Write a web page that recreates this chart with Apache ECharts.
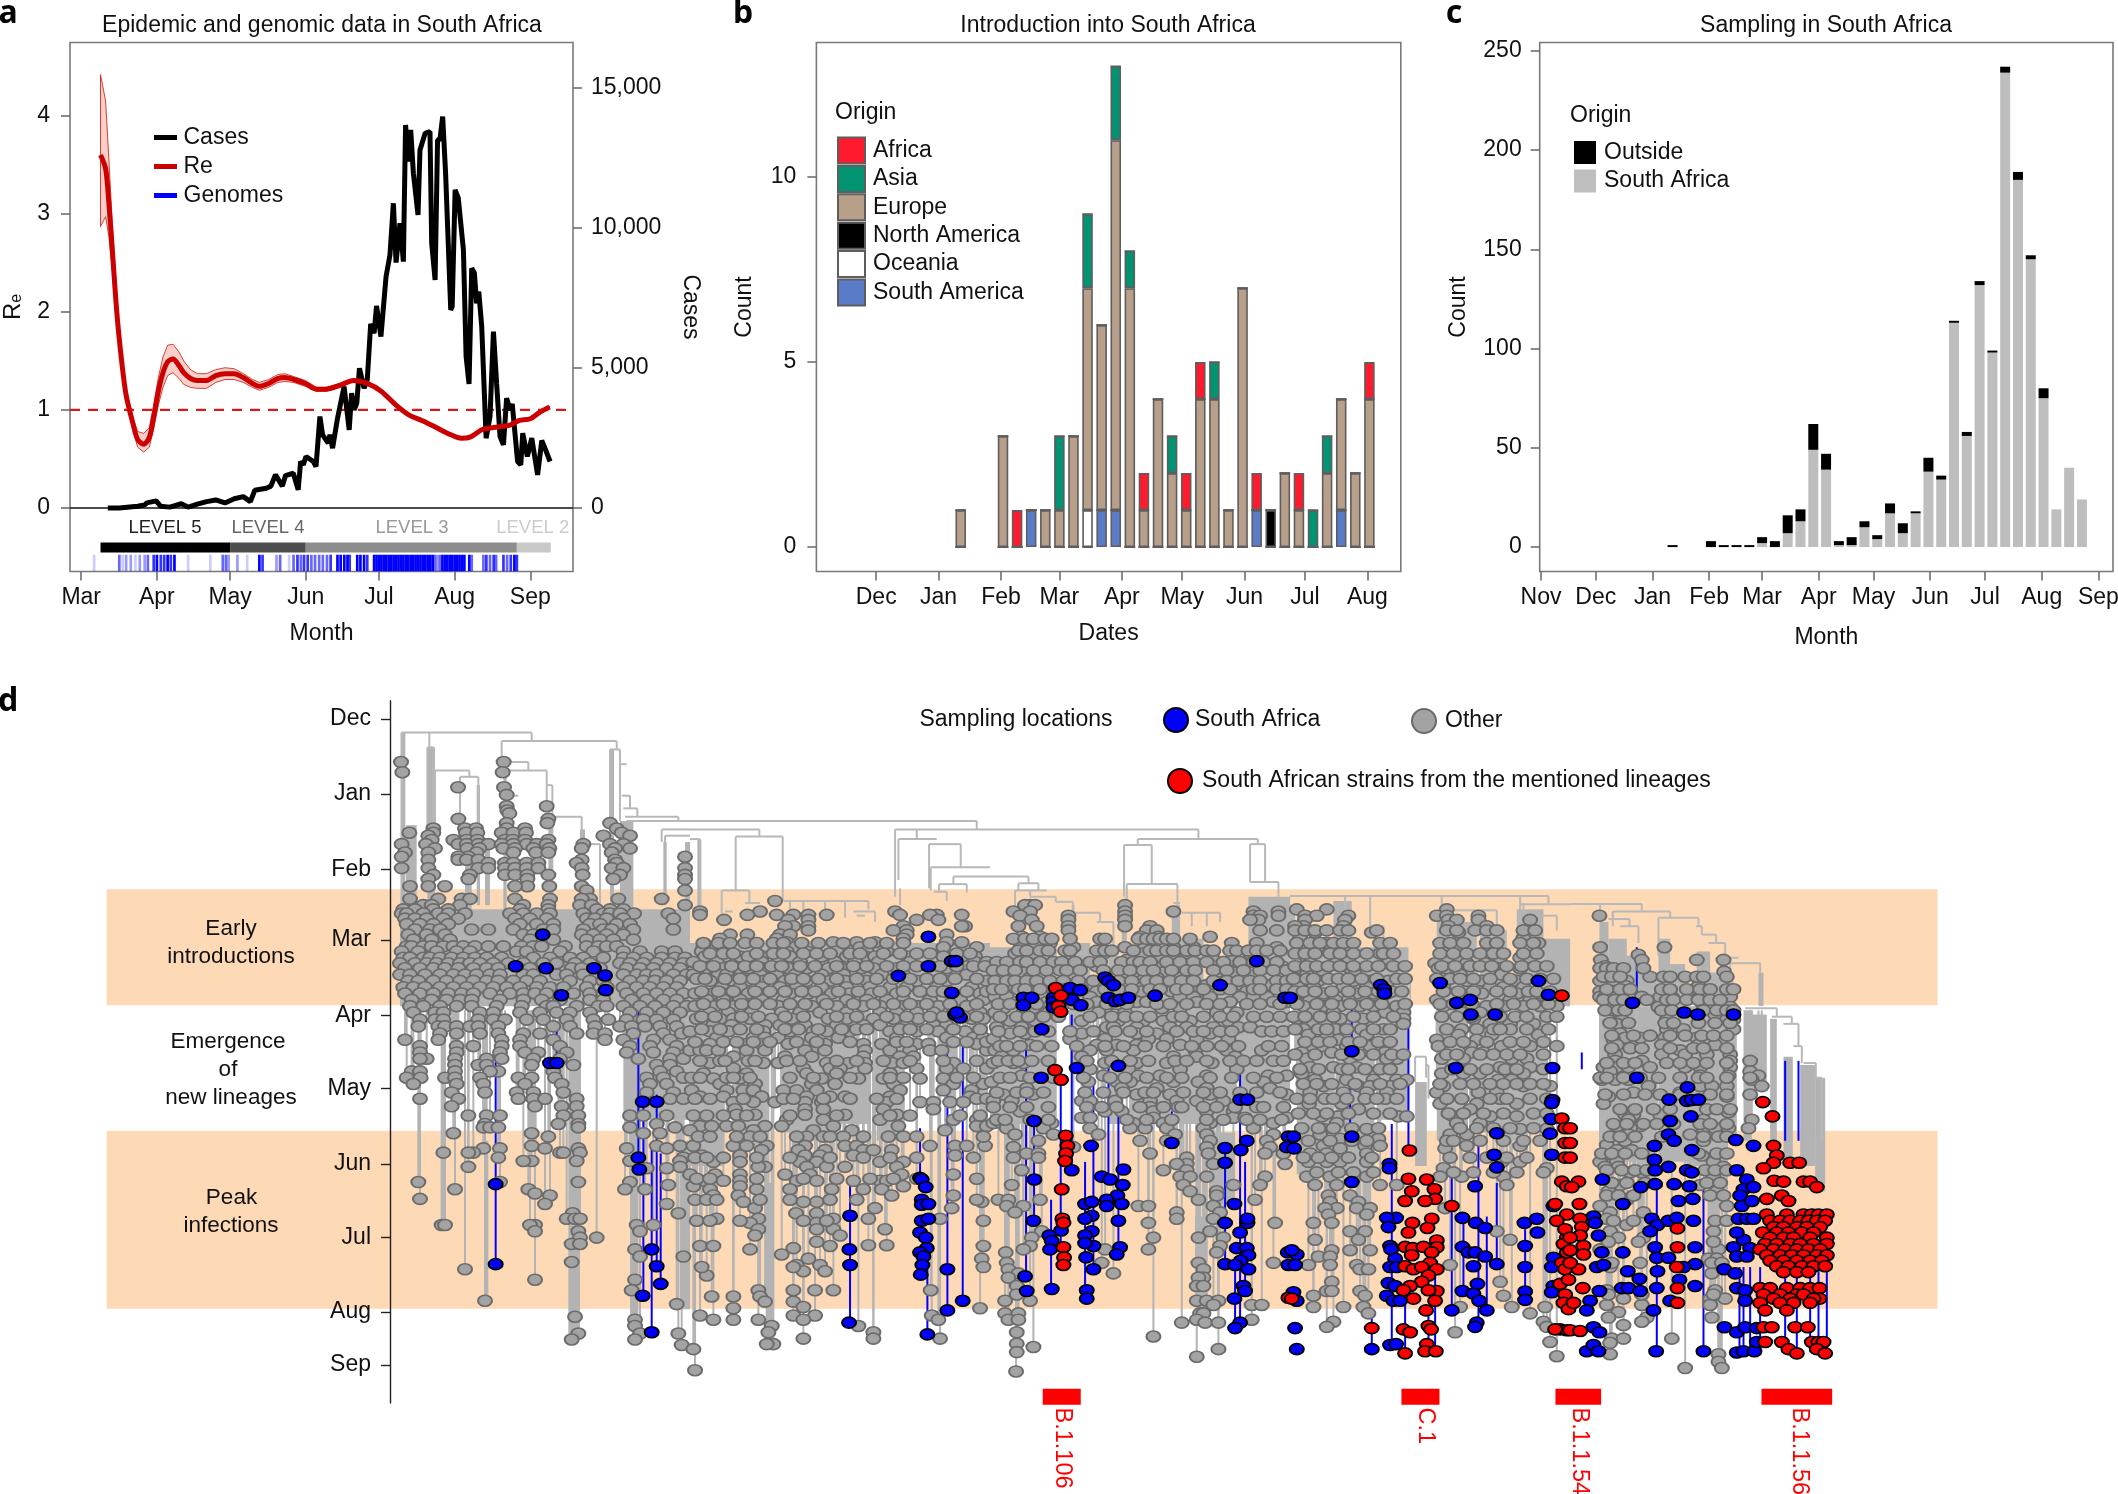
<!DOCTYPE html>
<html><head><meta charset="utf-8">
<style>html,body{margin:0;padding:0;background:#fff}#c{width:2118px;height:1494px}</style>
<script src="https://cdn.jsdelivr.net/npm/echarts@6/dist/echarts.min.js"></script>
</head><body><div id="c"></div>
<script>
// ---------- Panel a ----------
const aMonths=['Mar','Apr','May','Jun','Jul','Aug','Sep'];
const aMonthDays=[0,31,61,92,122,153,184];
const reDays=[7.9,10,11.3,12.8,14.7,16.6,18.4,21.3,23.1,25.6,27.9,29.7,31.6,33.5,35.4,37.6,40.1,42,44.8,47.6,51.4,55.1,58.9,62.7,66.4,70.2,73,76.8,80.5,83.4,87.1,91.8,96.5,100.3,105.9,111.6,117.2,122.9,128.5,134.2,139.8,145.5,151.1,155.8,159.6,164.3,169,175.6,179.3,184,187.8,191.9];
const reMean=[3.6,3.46,3.12,2.61,1.96,1.49,1.15,.85,.7,.65,.72,.93,1.19,1.38,1.49,1.52,1.45,1.38,1.32,1.3,1.3,1.35,1.37,1.37,1.33,1.27,1.24,1.27,1.32,1.33,1.31,1.27,1.21,1.21,1.25,1.3,1.27,1.19,1.06,.95,.89,.82,.75,.71,.725,.8,.82,.845,.89,.91,.975,1.03];
const reUpper=[4.42,4.15,3.57,2.86,2.08,1.56,1.2,.91,.78,.76,.82,1.05,1.33,1.54,1.66,1.67,1.59,1.5,1.41,1.37,1.37,1.41,1.43,1.42,1.37,1.31,1.28,1.31,1.36,1.37,1.34,1.3,1.23,1.23,1.27,1.31,1.28,1.2,1.07,.96,.9,.83,.76,.72,.735,.81,.83,.855,.9,.92,.985,1.04];
const reLower=[2.87,2.97,2.77,2.41,1.86,1.42,1.1,.79,.62,.57,.62,.81,1.05,1.23,1.35,1.38,1.32,1.26,1.23,1.22,1.22,1.28,1.31,1.31,1.28,1.23,1.2,1.23,1.28,1.29,1.28,1.24,1.19,1.19,1.23,1.29,1.26,1.18,1.05,.94,.88,.81,.74,.7,.715,.79,.81,.835,.88,.9,.965,1.02];
const casesDaily=[[10.9,0],[15.6,0],[23.1,60],[26,105],[26.9,180],[30.7,255],[32.6,60],[36.3,30],[41,150],[43.8,30],[47.6,135],[51.4,225],[55.1,285],[58.9,180],[62.7,330],[66.4,405],[69.3,225],[71.1,630],[75.8,705],[77.7,780],[79.6,1185],[82.4,780],[83.7,1155],[86.9,1240],[88.9,646],[89.9,1657],[91,1538],[92.1,1835],[95.1,1657],[96.2,1478],[97.8,3262],[98.9,2608],[101.2,2310],[101.9,2608],[103,2132],[104.9,3143],[107.7,4332],[109.8,2786],[110.8,4094],[111.8,3500],[112.9,3737],[114,4986],[115.9,4272],[117.2,4570],[118.6,6567],[120,6234],[121,7209],[122.8,6115],[124.9,8255],[126.5,9028],[127.9,10871],[129,8755],[130.6,10158],[132,8790],[132.9,13665],[134,12357],[135,13487],[136.1,11941],[138,10455],[138.8,12773],[140.9,13368],[142.9,13427],[143.6,9444],[145,8136],[146,13130],[147,13154],[148.1,13962],[149.3,11941],[151.4,7066],[152,7185],[153.2,11347],[154.5,11050],[155.3,10990],[156.6,9207],[157.7,5402],[158.9,4427],[160,8553],[161.1,8374],[162,7304],[162.9,7720],[164.1,6472],[165.9,2489],[167.5,3262],[168.9,6293],[170.2,4450],[171.6,2548],[173,2251],[174.3,3915],[175.7,3500],[176.6,3713],[178.8,1657],[180.1,1538],[180.9,2667],[182.8,1835],[184.6,2489],[187,1181],[188.7,2406],[190,2132],[192.1,1657]];
const genomeDays=[[5.3,1],[15.6,3],[17,1],[18.4,2],[20.3,2],[22.2,1],[24,2],[26,2],[27.3,3],[29.7,4],[31,5],[32.6,4],[34,4],[35.4,5],[36.7,4],[38.2,5],[43.8,1],[52.9,1],[58,3],[59.3,3],[60.4,2],[64,2],[68,1],[73,5],[74.3,4],[80,2],[81.5,3],[85.2,1],[87,3],[88.6,4],[90,3],[91.3,4],[92.8,4],[94.3,3],[95.8,3],[97.5,3],[99,3],[100.7,3],[102.2,4],[105,5],[106.3,5],[107.8,5],[109.1,5],[110,4],[113.1,5],[114.4,5],[115.9,5],[117.2,4],[120,5],[121,5],[122,5],[123,5],[124,5],[125,5],[126,5],[127,5],[128,5],[129,5],[130,5],[131,5],[132,5],[133,5],[134,5],[135,5],[136,5],[137,5],[138,5],[139,5],[140,5],[141,5],[142,5],[143,5],[144,5],[145,3],[146,2],[147,3],[148,5],[149,5],[150,5],[151,5],[152,5],[153,5],[154,5],[155,5],[156,5],[157,5],[159,5],[160,3],[164.8,3],[166,4],[167.5,3],[169,4],[170,3],[173,4],[174.5,3],[176,4],[177.5,5],[178.5,4]];
const lockdownLevels=[[7.9,61,'LEVEL 5','#000000','#222222'],[61,92,'LEVEL 4','#4d4d4d','#666666'],[92,178.5,'LEVEL 3','#8c8c8c','#999999'],[178.5,192.4,'LEVEL 2','#c8c8c8','#cccccc']];
const levelLabelDays=[34.3,76.5,135.5,185];
// ---------- Panel b ----------
const bMonths=['Dec','Jan','Feb','Mar','Apr','May','Jun','Jul','Aug'];
const bMonthDays=[0,31,62,91,122,152,183,213,244];
const introWeeks=[42,63,70,77,84,91,98,105,112,119,126,133,140,147,154,161,168,175,182,189,196,203,210,217,224,231,238,245];
const introAfrica=[0,0,1,0,0,0,0,0,0,0,0,1,0,0,1,1,0,0,0,1,0,0,1,0,0,0,0,1];
const introAsia=[0,0,0,0,0,2,0,2,0,2,1,0,0,1,0,0,1,0,0,0,0,0,0,1,1,0,0,0];
const introEurope=[1,3,0,0,1,1,3,6,5,10,7,1,4,2,1,4,4,1,7,0,0,2,1,0,2,3,2,4];
const introNorthAmerica=[0,0,0,0,0,0,0,0,0,0,0,0,0,0,0,0,0,0,0,0,1,0,0,0,0,0,0,0];
const introOceania=[0,0,0,0,0,0,0,1,0,0,0,0,0,0,0,0,0,0,0,0,0,0,0,0,0,0,0,0];
const introSouthAmerica=[0,0,0,1,0,0,0,0,1,1,0,0,0,0,0,0,0,0,0,1,0,0,0,0,0,1,0,0];
// ---------- Panel c ----------
const cMonths=['Nov','Dec','Jan','Feb','Mar','Apr','May','Jun','Jul','Aug','Sep'];
const cMonthDays=[0,30,61,92,121,152,182,213,243,274,305];
const sampleWeeks=[72,93,100,107,114,121,128,135,142,149,156,163,170,177,184,191,198,205,212,219,226,233,240,247,254,261,268,275,282,289,296];
const sampleSouthAfrica=[0,0,0,0,0,2,0,7,13,49,39,1,1,10,4,17,7,17,38,34,113,56,132,98,239,185,145,75,19,40,24];
const sampleOutside=[1,3,1,1,1,3,3,9,6,13,8,2,4,3,2,5,5,1,7,2,1,2,2,1,3,4,2,5,0,0,0];
// ---------- Panel d ----------
const dMonths=['Dec','Jan','Feb','Mar','Apr','May','Jun','Jul','Aug','Sep'];
const dMonthPos=[-2.4,176,355,523,702,876,1055,1229,1407,1533];
const sectionOffsets=[0,900,1800,2700,3540];
const epochBands=[[-850,4642,402,678],[-850,4642,976,1399]];
const lineageBars=[[1958,2072,'B.1.106',2018],[3034,3148,'C.1',3105],[3496,3633,'B.1.1.54',3567],[4114,4326,'B.1.1.56',4227]];
const branches=[
[[35,450,35,30,425,30,425,50],[335,100,335,50,680,50,680,70],[660,235,660,70,690,70,690,240],[118,30,118,65],[112,300,112,65,130,65,130,300],[135,300,135,120,238,120,238,135],[210,290,210,135,265,135,265,300],[340,100,415,100,415,120],[355,130,355,120,470,120,470,155],[470,200,470,155,487,155,487,230],[355,180,385,180],[490,230,575,230,575,270],[580,295,630,295,630,440],[690,105,710,105],[695,180,720,180,720,210],[700,210,742,210,742,230],[705,230,865,230,865,240],[710,240,900,240],[815,290,815,260,900,260],[825,290,825,275,900,275]],
[[0,240,860,240,860,260],[0,260,208,260,208,277],[137,405,137,277,278,277,278,430],[95,460,95,405,178,405,178,435],[165,435,210,435],[105,455,128,455],[280,430,535,430,535,450],[300,430,300,470],[340,430,340,470],[405,430,405,470],[465,430,465,470],[490,455,555,455,555,480],[500,465,525,465],[615,420,615,260,900,260],[625,380,625,283,740,283],[630,440,630,400],[717,400,717,295,812,295,812,350],[722,405,722,350,900,350],[790,390,790,372,900,372],[747,410,747,390,830,390,830,410],[732,408,770,408,770,430],[0,283,30,283,30,440],[680,260,680,283]],
[[0,260,625,260,625,283],[443,283,803,283,803,295],[443,283,443,297],[402,420,402,297,485,297,485,390],[410,440,410,390,562,390,562,440],[550,435,570,435],[575,458,690,458,690,480],[605,458,605,490],[650,458,650,490],[780,385,780,295,825,295,825,385],[780,385,865,385,865,420],[0,372,115,372,115,388],[85,405,85,388,145,388,145,405],[75,450,75,405,170,405],[120,405,120,420,197,420,197,432,248,432,248,458,330,458,330,480],[250,440,250,470],[320,480,370,480,370,540]],
[[0,418,775,418,775,438],[690,480,690,420],[690,438,840,438],[455,470,455,420],[455,452,620,452,620,490],[240,490,280,490,280,520,300,520,300,560,320,560,320,590,335,590,335,610,360,610,360,700],[165,420,165,460],[240,420,240,490],[755,465,800,465,800,500],[375,860,375,800,408,800,408,850],[405,820,415,820,415,900],[700,435,700,480]],
[[0,437,215,437,215,455],[128,490,128,455,300,455,300,470],[265,560,265,470,385,470,385,490],[378,490,395,490,395,510,438,510,438,530],[415,530,465,530,465,565,505,565],[480,640,480,578,570,578,570,600],[525,685,620,685,620,705],[605,705,665,705,665,722],[640,722,685,722,685,775],[670,775,695,775,695,815],[700,815,737,815,737,850],[727,850,755,850,755,1000],[115,473,178,473,178,490],[150,490,205,490,205,530],[90,437,90,480]]
];
const stemBands=[
[[32,46,30,470],[48,80,250,450],[112,135,65,440],[225,245,260,460],[260,270,155,440],[285,300,290,440],[340,350,100,450],[475,490,230,450],[570,585,260,400],[660,672,70,440],[690,730,240,450],[820,830,290,440],[885,900,290,450],[30,900,450,680],[700,900,680,950],[535,570,750,1470],[155,165,700,1200],[415,440,900,1000],[285,295,1000,1380],[870,900,1000,1400],[720,745,800,1450]],
[[22,34,285,460],[0,900,530,690],[0,100,690,1060],[130,230,720,1000],[270,340,700,980],[340,420,730,1000],[430,540,760,960],[560,640,760,1000],[230,250,1100,1440]],
[[0,95,540,960],[110,200,530,960],[240,300,530,830],[355,400,560,960],[420,540,540,960],[550,640,520,960],[660,740,560,960],[750,900,680,950],[775,900,420,680],[660,735,980,1150],[615,650,1180,1420],[545,570,440,530],[395,410,440,540],[230,245,465,560]],
[[0,15,440,680],[20,130,540,1080],[130,185,430,680],[140,250,690,1080],[190,355,540,690],[260,355,690,950],[440,560,480,680],[570,650,500,700],[680,760,450,700],[760,840,520,680],[440,530,680,1000],[540,630,680,980],[640,700,700,1000],[700,770,700,980],[375,410,860,1060]],
[[88,115,480,680],[115,170,520,680],[170,200,560,680],[200,265,600,680],[265,300,520,680],[300,345,580,680],[380,420,550,680],[420,460,600,680],[465,490,620,680],[565,580,600,680],[88,130,680,1050],[130,200,680,1050],[200,260,680,1100],[265,350,680,1050],[350,440,680,1060],[440,500,680,1000],[520,545,690,1000],[545,590,700,880],[600,620,710,1000],[640,668,800,1040],[690,735,820,1060],[735,765,850,1120],[400,470,1000,1100],[445,455,1350,1510]]
];
const blueStems=[
[[317,810,1293],[745,670,1068],[760,907,1368],[785,1010,1455],[800,890,1300],[812,1030,1340],[500,720,815]],
[[480,1100,1432],[690,970,1090],[712,1300,1460],[772,720,1403],[818,760,1380]],
[[108,700,1322],[132,950,1190],[183,1140,1352],[212,850,1250],[245,700,1070],[285,1050,1360],[310,850,1300],[355,700,1090],[385,870,1270],[545,930,1005],[705,1020,1300],[735,1300,1445],[750,770,1430],[765,1050,1350]],
[[245,1400,1490],[305,960,1480],[345,1380,1500],[355,710,1015],[435,1300,1490],[485,1080,1400],[415,1400,1500],[520,1180,1360],[565,1000,1430],[620,1100,1290],[705,1210,1380],[180,860,990],[185,600,780],[590,1180,1400]],
[[200,540,660],[260,1100,1500],[35,790,830],[400,1110,1500],[508,1300,1500],[520,1300,1500],[540,1300,1500],[570,1300,1500],[645,810,1000],[645,1300,1500],[680,1300,1500],[685,810,1000],[720,1300,1500],[745,1300,1500],[770,1300,1500]]
];
const otherRows=[
[[100,33,341],[124,37,338],[160,204,342],[178,350],[205,470,350],[215,352],[222,358],[235,205,475],[245,472,660,350],[258,130,225,258,405,350,680],[268,58,130,228,262,335,370,408,695],[275,115,720,640],[285,125,190,230,262,345,368,405,475],[295,35,108,205,230,265,295,335,370,410,440,470,580,660,700],[305,135,232,268,340,375,430,478,575,720,675],[315,45,115,260,370,438,475,665],[325,35,235,205,885],[332,115,205,230,265,575,675],[340,295,345,370,410,445,560,680],[352,35,115,265,295,345,375,410,445,575,665,700,885],[368,130,240,345,375,412,475,578,690,885],[378,115,235,412,670,885],[395,60,115,165,412,375,478,575],[405,885,590],[425,60,145,215,240,375,480,600,575,685,815],[440,100,125,210,400,475,570,605,885],[450,40,75,130,175,475,390,620,660,700],[460,35,50,100,145,175,225,360,400,440,480,580,640,660,690,732,835],[472,45,75,110,160,205,375,420,470,590,615,650,700,850],[485,50,90,130,175,390,440,490,600,630,680,720],[498,75,120,150,245,295,370,460,490,580,640,665,730,850],[510,55,110,165,400,430,575,610,650,700],[522,70,125,180,420,490,590,630,670,730],[538,50,65,100,125,160,190,220,255,295,340,395,430,455,525,590,625,650,680],[550,35,85,140,200,240,380,410,510,610,700,750,815,855],[565,40,60,100,120,150,185,220,255,290,335,430,480,540,580,640,700,730,770,815,855,885],[578,30,75,110,140,175,210,240,270,310,355,400,460,500,555,600,690,720,760,800,840,880],[590,45,90,130,165,205,250,290,325,420,545,575,630,710,750,790,830,870],[605,30,60,105,150,190,225,260,300,330,400,430,500,530,580,620,700,740,770,800,850,890],[620,55,85,130,170,210,250,290,325,370,410,450,540,600,640,720,760,795,830,870],[635,40,70,105,150,190,230,270,310,350,390,440,480,520,590,650,700,740,780,820,860],[650,45,90,130,175,215,250,300,360,400,435,470,550,600,640,710,760,800,840,880],[665,65,125,170,210,245,330,400,455,510,600,640,725,770,820,860],[680,60,100,150,200,245,320,395,470,490,560,625,650,700,750,795,850,890],[695,70,135,160,270,310,390,450,500,540,600,720,770,820,870],[712,90,135,160,265,310,345,410,460,530,655,610,710,760,800,850],[728,85,145,165,200,240,265,325,490,540,615,690,725,765,810,860],[745,150,200,270,325,400,450,560,610,645,730,820,875],[760,45,145,335,390,490,645,700,790,840],[775,90,200,250,335,390,510,720,780,860],[790,90,200,330,405,445,530,710,790,850],[805,110,90,195,290,335,430,510,745,840,880],[820,195,265,290,425,550,800,840],[835,65,90,195,325,300,490,810,860],[850,50,92,165,195,270,385,425,495,770,820,880],[865,70,200,280,405,515,780,830],[885,185,285,380,430,520,770,850],[900,90,205,385,430,465,560,840,880],[918,185,435,515,560],[940,235,290,330,520,565,720,760,830],[960,285,505,565,800],[968,280,300,325,565,720,855],[982,190,425,760,810],[990,475],[1012,425,800,870],[1018,330,280,465,565,710,830],[1028,160,250,235,510,520,570],[1040,325,880],[1048,425,400,560,870,720],[1062,235,870],[1065,770,830],[1098,85,565,330,720],[1105,835],[1115,705,765,195,415],[1125,435],[1130,480],[1138,90],[1150,465,830],[1172,865,548],[1185,530,555,570],[1200,155,165,435,420,740,790],[1215,565,435,750],[1230,620,570],[1245,545,570],[1258,735],[1275,750,880],[1288,545],[1305,225],[1330,435,735],[1355,725],[1380,285],[1388,860],[1418,555],[1425,735],[1440,735],[1458,565,750,865],[1472,545,735],[1485,875]],
[[430,255],[455,30,210,615],[463,30,172,260,310,355,410,630,740,720,815],[475,102,295,355,680,745],[490,310,355,285,640,825,815],[500,355,610,650],[510,120,172,270,300,650,770],[520,90,260,640],[528,430,290,500,555,815,770],[540,40,100,315,510,760,860],[550,35,290,350,440,530,590],[562,45,105,150,175,215,300,395,470,525,555,650,760,815,855],[575,10,80,215,265,330,435,495,565,660,855,890],[590,50,100,145,175,220,295,350,415,455,515,550,620,770],[605,10,85,110,210,260,315,395,460,575,640,830],[620,60,130,170,220,285,350,420,465,530,680,770,890],[635,95,150,215,270,320,395,470,540,600,650,740,845],[650,15,70,115,175,225,300,355,425,480,545,620,780,870],[665,50,100,150,215,280,400,470,530,590,640,720,810,880],[680,15,75,130,175,265,365,440,520,570,630,685,745,830],[695,60,115,185,275,330,390,470,570,620,680,730,790,870],[710,20,90,130,180,245,305,415,470,550,610,685,845,880],[725,70,125,225,270,345,440,520,570,650,730,770],[740,0,60,115,220,300,370,410,480,600,680,745,825],[755,80,190,225,265,365,445,620,770,850,880],[770,60,160,215,295,405,520,575,680,715,860],[785,0,30,50,85,170,225,365,345,405,525,600,660,720,755,890],[800,130,285,365,520,630,670],[815,60,220,265,410,475,525,605,790,640],[828,130,340,420,450,525,680,770,820,890],[840,40,170,350,440,600],[852,70,150,395,505,580,690,760],[865,90,195,365,435,610,790,880],[880,5,110,160,190,280,320,380,630,760,845],[895,30,100,215,350,420,465,600,840],[908,130,190,255,345,395,590,690,730,780,820],[925,135,345,400,730,580],[938,195,140,465,345,620],[950,290,400,570,790,860],[965,30,65,110,145,225,275,430,625,860,890],[975,0,190,370,485,765],[990,180,400,350,460,595],[1012,10,130,170,230,465,345,500,720,795,830,885],[1022,215,325,405,520,550,605],[1035,35,150,345,390,490,795],[1050,70,150,330,380,570,640],[1062,225,205,350,410,465,620],[1080,0,75,150,285,360,635,790],[1095,45,100,150,320,380,570,490,590],[1108,150,10,640],[1115,60,200,300,425,520,575],[1130,145,70,605,790],[1145,160,380,340,875],[1160,195,555,785],[1172,318,380],[1185,80,205,535,430,750],[1195,180,380],[1210,205,380,430,585],[1225,195,450],[1240,380],[1248,535,590],[1255,310],[1258,180],[1270,275],[1280,875,355],[1295,320,390],[1310,340,405],[1320,50],[1355,430,310,375,205,722],[1370,130,65,210],[1382,225,310],[1395,340],[1398,870,130],[1415,310,30,375,725],[1425,70,205,340,130,745],[1440,245,505],[1455,550,235],[1470,340,550,750],[1483,250,230],[1495,10],[1545,15],
[530,40,85,120,165,200,250,280,335,385,460,540,590,640],[555,60,100,130,200,250,280,340,380,420,480,510,580,630,680,720,800,840],[585,30,70,125,165,200,245,275,330,375,440,490,530,590,640,680,720,750,800,850,885],[615,20,45,105,150,190,240,305,340,385,440,500,560,610,660,710,750,795,860],[645,35,85,130,195,240,285,335,375,445,505,570,640,690,730,760,830,890],[675,40,100,155,195,240,300,345,410,490,550,610,660,710,780,860],[705,35,75,155,205,285,340,440,500,590,650,720,760,820,860],[735,35,90,150,200,285,325,385,455,500,530,630,660,710,790,870],[765,15,100,140,190,240,320,380,480,620,650,790,830,890],[810,30,90,105,175,195,290,330,440,500,580,660,760,860],[850,5,30,110,130,180,300,370,480,600,640,800,850],[900,15,60,160,280,310,400,480,560,620,860,890],[940,10,50,100,170,300,440,600,660,810,870],[990,25,60,140,210,320,420,520,640,680,880],[1040,15,50,100,200,300,420,520,600,680,850],[1090,20,60,200,340,440,540,610,680,860],[1140,15,50,80,210,300,420,500,860],[1190,20,60,150,340,410,880],[1250,30,70,420,880],[1300,35,310,880]],
[[440,120,105,135,405],[455,70,120,405,550,790,865],[465,90,235,405,790,810,865],[475,125,235,405,805,780],[490,85,140,235,405,480],[500,235,470,500,810,860],[515,95,150,450,505,660],[530,90,180,135,725,800],[540,250,405,550,465,610,860],[555,75,130,340,460,510,665,780,590],[570,240,410,510,550,670,725],[585,70,120,170,320,600,520,875],[600,100,250,410,430,520,560,680,730,790],[612,120,155,250,500,565,880],[630,25,60,170,600,440,520,650,755,830],[645,130,320,400,455,545,620,770],[658,15,50,160,300,410,570,610,660,750,790,830],[670,80,170,320,440,470,620,720,850,890],[685,40,130,345,570,515],[695,15,100,175,405,325,680,740],[715,60,135,275,385,460,520,600,715],[730,20,95,350,370,440,540,590,670,745,780],[745,60,105,275,440,500,660],[758,10,240,345,475,530,620,715],[772,120,320,440,570,380],[785,15,70,300,350,430,615,710,815],[800,35,275,550,620,735],[815,10,70,100,345,440,530,665],[830,300,415,570,740],[845,95,340,445,510,650,835,890],[860,5,295,380,420,550,625,820],[875,110,395,650,500,840],[890,40,130,440,540,660,890],[905,10,65,480,275,300,375,560,620,700],[920,480,565,800],[930,90,345,395,490,650,730],[945,275,300,490,730,765,890],[958,10,35,185,430,520,660,850],[970,50,160,300,420,465,530,640,790],[985,75,190,325,555,650,850],[1000,450,145,530,660,830],[1015,70,250,650,840],[1030,110,145,480,655,825,880],[1040,70,145,590],[1055,590,560,670,885],[1070,95,520,590],[1085,570,600,650,825],[1105,65,580,730,810],[1120,600,680],[1130,680],[1140,25,55,150,625,795],[1155,50,445,475,100,670],[1170,75,560,690],[1185,560,670],[1195,475,855],[1215,155,660],[1230,490,125,625,700],[1250,120,690],[1258,475,100,345],[1265,47,680],[1290,50,335,625,850],[1305,55,640],[1315,85,370],[1325,55,640,625],[1345,80,620,640],[1365,80],[1380,45,620,650,685,120],[1390,785,815,670],[1410,45,85,630,640],[1425,55,85,785,620],[1432,575,645,685],[1455,80],[1465,490],[1482,80],[1490,130],[1495,685],[1502,80],[1513,620],[1548,78],
[520,70,105,130,165,185,240,330,345,445,470,490,510,530,550,600],[548,85,110,150,175,225,240,320,345,365,430,480,500,530,550,590,615,650,670,720,740,775,800,830,870],[575,20,50,90,110,150,190,215,255,300,330,395,430,450,480,530,570,610,650,700,750,790,820,860],[595,10,40,75,130,170,210,230,270,340,385,420,460,490,545,590,615,670,710,760,810,850,890],[620,15,50,75,110,140,180,220,265,310,350,385,425,470,500,540,575,610,670,710,745,780,810,860,890],[640,10,35,85,105,150,195,225,275,345,385,425,480,510,560,590,640,690,720,790,810,860,890],[675,25,60,100,140,200,250,290,350,380,410,500,540,590,650,690,770,810,870],[705,30,80,115,160,205,300,365,405,440,480,550,575,640,690,730,790,830,870],[740,25,90,135,175,240,310,375,420,470,560,610,640,690,725,815,845,880],[775,30,50,90,140,185,260,345,400,465,520,605,650,695,745,835,875],[810,25,55,85,125,175,290,365,420,475,555,590,650,720,760,800,850,880],[850,30,60,120,190,280,360,405,470,530,575,660,725,790,860],[885,20,80,110,160,285,340,400,465,490,580,640,690,750,800,870],[920,10,60,110,175,290,335,380,450,520,575,640,680,735,820,880],[950,20,45,120,175,410,470,545,650,700,770,810,875]],
[[450,20,110,470],[465,45,80,175,440,470,565],[475,45,165,475,500,565,720],[490,40,15,160,475,590],[505,75,245,505],[518,30,700],[530,110,745],[545,40,80,135,280,510,600],[555,270],[565,50,175,290,470,510,630,690,720],[578,60,135,295,435,530,585],[590,30,100,180,445,470,630,690],[605,50,100,195,510,635],[620,30,85,190,240,295,530,575,680],[635,25,70,160,230,460,600,640,700],[650,45,100,200,290,250,575,680,755],[665,10,60,175,135,440,660,720,790],[680,40,105,150,210,250,320,460,590,645,700,750,800],[695,70,130,285,340,515,570,620],[710,20,150,220,340,550],[722,70,105,340,600,660,730],[735,40,135,215,280,515,560,660],[748,55,110,230,505,605,745],[760,440,145,560],[775,65,100,170,240,445,540,635,720,800],[790,35,125,285,545,580],[805,50,180,320,290,455,520,665,710],[825,60,130,200,630,720],[840,35,455,520,570,700],[855,75,170,250,320,350,625,665],[870,100,205,300,240,460,700,780],[885,60,160,230,290,440,565,620],[900,20,105,285,515,630],[912,57,450,155,560,680],[925,205,540],[942,95,145,325,350,490,600,680],[958,140,500,570],[972,100,230,690,770],[985,90,480,530],[995,265,150],[1012,100,225,270,530,690],[1018,465,150],[1030,60,110,230],[1050,55,110,150,230,635,690],[1065,770,460],[1085,50,120,230,515,450,640],[1105,75,140,270,320,650],[1130,180,115],[1145,120,205],[1160,140,105,200,240,465],[1175,115,230],[1195,125,70],[1215,180,225,620],[1235,75,205,660],[1260,125,180,240],[1275,85,120],[1295,120,55,200,480],[1305,210,235],[1335,125,630],[1357,210,110,125],[1368,70,225,640],[1395,70,160,510,220,665,765],[1410,235,720],[1430,130,760],[1442,110,770],[1455,495],[1478,780],[1512,800],
[500,15,45,75,110,150,175,260,470,500,555,590,620,700,735],[530,20,60,90,130,160,190,270,300,450,480,520,590,620,690,730],[555,15,45,75,120,150,190,230,280,310,450,490,530,570,610,640,700,740],[585,15,50,80,115,150,190,230,265,310,345,455,495,540,570,605,650,695,735,770],[615,10,50,70,115,145,175,215,260,320,345,440,480,510,550,600,660,710,750,790],[645,15,40,75,125,175,225,265,305,335,460,505,550,620,660,715,740,780],[675,20,80,125,180,230,275,345,450,490,545,620,670,730,775],[705,10,45,90,130,190,250,310,455,500,545,630,675,710,770,800],[735,15,85,110,170,250,300,470,610,630,710,775],[765,45,85,120,175,210,265,300,480,520,590,660,700,760],[795,15,75,155,205,250,305,340,470,500,570,610,650,690,760],[830,30,85,155,175,225,270,300,485,540,590,645,680,760],[865,40,80,125,195,270,330,450,510,550,600,640,680,720,760],[900,60,130,170,225,260,320,470,600,650,720,770],[935,25,70,110,175,250,300,475,520,580,640,730,770],[970,35,85,130,185,265,510,560,610,660,730],[1000,55,120,185,230,470,490,570,640,700,750],[1040,40,85,125,175,245,480,540,590,650,710],[1075,80,145,190,250,490,550,610,680,760]],
[[465,88],[540,90,283],[558,205],[570,92,215,380,460],[585,105],[598,135,462],[610,240,345],[620,90,130,170],[632,165,385],[645,90,130,410,385],[658,90,105,270,480,305,215,390],[672,130,395],[682,265,480],[690,130],[700,150,435],[712,155,290,470,490],[722,140],[735,290,340,490],[745,150],[755,165,210,285,380],[760,130,410],[772,140,385,435,275],[785,330],[795,135,275,480,345,410],[810,135,215,480,540],[825,100,140,175,240,345,390,480],[835,120,540],[845,390,475,565],[855,95,135,175,545],[870,235,390,425,470,575],[885,190,330],[895,115,470],[912,100],[932,475],[938,165,190,270],[950,175,400,545,300],[965,140,210],[970,180,400,435,475,535],[985,175,360],[1000,165,400],[1010,110],[1022,140,185],[1035,100,395],[1050,90,140,430],[1062,105,145,460],[1075,180,215],[1085,430],[1105,150,390],[1120,115,440],[1140,170],[1155,90,470],[1170,120,220],[1185,110],[1200,170],[1215,120,430],[1230,145,220],[1258,90,445],[1280,415,440],[1300,120],[1315,425],[1355,435,110],[1375,160,420,465],[1390,110,215,420],[1407,145],[1420,115,230,425],[1430,215],[1438,160],[1470,125,160,305],[1480,120],[1507,120,445],[1525,445],[1540,345,455],
[590,90,110,130,160,220],[610,100,125,150,280,300,380,400,470],[640,110,150,180,275,300,350,390,420,470,490],[665,100,135,160,230,290,310,350,385,420,450],[690,105,145,165,275,305,400,440,470,490],[720,120,175,285,310,385,435,480],[750,125,190,240,300,345,395,430,470],[780,125,180,215,300,370,400,470],[815,110,160,195,290,330,370,410,470],[850,90,110,160,210,265,330,385,410,470,540],[890,105,160,225,270,330,420,470,540],[925,150,195,250,300,410,440,480],[960,130,170,220,260,310,390,420,470],[990,120,150,195,275,400,445,470],[1030,95,125,165,215,385,440,470],[1070,110,155,195,230,405,435,470],[1100,125,170,225,410,450],[1130,110,145,190,420,460],[1190,130,190,435,470],[1240,115,205,430],[1290,125,210,425,455],[1365,115,215,430]]
];
const saTips=[
[[458,510],[377,585],[468,590],[612,590],[645,607],[647,642],[514,654],[480,815],[500,815],[758,907],[800,907],[745,1040],[748,1068],[317,1103],[317,1293],[785,1258],[800,1298],[812,1340],[758,1368],[785,1455]],
[[715,515],[715,585],[625,608],[785,573],[797,573],[785,648],[795,700],[810,707],[800,695],[690,1088],[695,1092],[707,1110],[695,1140],[695,1152],[715,1150],[695,1190],[715,1185],[690,1218],[707,1230],[710,1255],[690,1265],[700,1275],[697,1295],[692,1318],[772,1305],[772,1403],[818,1380],[712,1460],[480,1178],[478,1258],[480,1295],[477,1432]],
[[690,630],[495,655],[800,573],[885,660],[100,660],[125,660],[100,678],[240,637],[270,642],[245,665],[272,678],[345,612],[355,620],[370,630],[355,660],[375,668],[390,665],[415,660],[155,735],[153,850],[260,827],[385,822],[750,902],[772,902],[132,953],[133,1092],[303,1012],[545,1005],[705,1017],[705,1052],[770,1000],[752,1022],[245,1070],[335,1085],[360,1092],[400,1068],[398,1105],[382,1130],[350,1140],[395,1150],[285,1150],[305,1145],[350,1155],[733,1150],[130,1190],[305,1178],[285,1185],[385,1190],[705,1195],[772,1195],[772,1185],[750,1218],[213,1213],[178,1225],[185,1238],[180,1258],[305,1215],[285,1225],[310,1250],[285,1243],[390,1253],[380,1270],[288,1277],[310,1305],[740,1255],[770,1255],[775,1272],[752,1285],[705,1293],[735,1295],[775,1305],[105,1322],[110,1357],[185,1352],[290,1355],[290,1375],[760,1345],[765,1357],[733,1375],[750,1432],[735,1445],[895,990],[890,1015],[893,1265],[895,1295],[190,660],[190,670],[190,683]],
[[450,625],[500,672],[540,665],[542,700],[615,700],[745,620],[775,653],[272,630],[282,640],[283,650],[185,787],[497,827],[787,827],[0,660],[787,903],[785,910],[783,948],[780,983],[620,982],[785,1033],[612,1033],[620,1063],[185,990],[185,1098],[10,990],[12,1018],[298,1055],[298,1065],[555,1108],[790,1155],[318,1183],[290,1183],[295,1205],[517,1183],[557,1195],[585,1207],[703,1195],[740,1185],[742,1218],[300,1250],[303,1258],[315,1280],[300,1300],[320,1300],[517,1252],[535,1265],[555,1265],[585,1275],[620,1293],[550,1298],[705,1250],[705,1300],[790,1278],[785,1300],[295,1338],[315,1345],[290,1368],[310,1380],[330,1380],[517,1357],[562,1340],[550,1363],[567,1380],[705,1358],[705,1378],[485,1403],[590,1403],[560,1432],[555,1442],[300,1485],[318,1483],[245,1495],[20,1495],[15,1445],[790,1345],[785,1360],[20,1270],[5,1260],[15,1295],[20,1380],[10,1360]],
[[187,672],[342,695],[383,700],[490,700],[200,850],[352,873],[297,902],[350,905],[365,903],[385,902],[300,953],[362,942],[295,985],[312,1000],[497,998],[550,1012],[253,1012],[365,1022],[253,1045],[255,1070],[295,1062],[350,1070],[365,1075],[500,1070],[97,1092],[212,1110],[255,1103],[312,1103],[358,1108],[530,1092],[520,1115],[510,1130],[550,1110],[325,1143],[368,1138],[515,1155],[545,1143],[158,1150],[245,1185],[262,1200],[295,1190],[320,1183],[370,1190],[505,1185],[530,1185],[550,1185],[70,1180],[75,1195],[85,1225],[240,1215],[520,1235],[500,1218],[255,1253],[375,1253],[490,1253],[540,1255],[158,1265],[260,1278],[295,1278],[95,1265],[375,1293],[500,1275],[530,1275],[80,1300],[100,1295],[262,1310],[340,1300],[462,1305],[495,1315],[173,1310],[208,1328],[155,1350],[175,1350],[210,1357],[260,1350],[300,1380],[375,1345],[328,1330],[500,1350],[525,1355],[525,1380],[88,1357],[250,1403],[60,1380],[50,1403],[463,1443],[500,1455],[525,1443],[560,1445],[70,1443],[88,1455],[50,1500],[70,1485],[85,1500],[258,1500],[400,1500],[500,1503],[520,1500],[553,1500],[560,1478]]
];
const lineageTips=[
[],[],
[[197,637],[213,655],[205,680],[212,693],[195,832],[213,855],[227,988],[232,1012],[228,1030],[225,1048],[215,1115],[217,1185],[220,1195],[220,1253],[222,1277],[220,1295],[895,1373]],
[[358,1023],[815,655],[815,947],[825,970],[825,1005],[825,1040],[355,1090],[410,1092],[433,1115],[365,1120],[345,1143],[435,1138],[405,1143],[485,1155],[425,1185],[367,1195],[412,1207],[355,1218],[440,1237],[345,1252],[368,1255],[440,1253],[400,1252],[365,1272],[425,1265],[420,1290],[345,1298],[370,1305],[440,1305],[395,1300],[415,1320],[395,1335],[360,1345],[340,1355],[440,1357],[415,1355],[370,1375],[435,1380],[408,1403],[340,1448],[360,1455],[415,1440],[423,1448],[410,1483],[405,1500],[437,1500],[345,1505],[245,1445],[815,1097],[830,1108],[795,1150],[830,1175],[800,1190],[830,1230],[820,1245],[830,1265],[815,1290],[825,1305],[810,1340],[825,1365],[820,1385],[835,1400],[810,1448],[830,1450],[795,1448],[835,1330],[5,1375],[825,1210]],
[[578,908],[607,942],[610,1012],[620,1035],[610,1052],[580,1065],[660,1052],[687,1052],[700,1097],[720,1097],[740,1110],[612,1095],[640,1097],[590,1138],[635,1130],[655,1143],[25,1097],[5,1110],[28,1150],[322,1208],[322,1253],[320,1300],[322,1350],[322,1385],[0,970],[0,1005],[0,1040],[30,1185],[35,1205],[30,1225],[40,1250],[40,1270],[25,1305],[0,1230],[0,1260],[0,1290],[38,1350],[10,1385],[0,1450],[30,1452],
[590,1175],[650,1175],[700,1175],[725,1175],[745,1175],[770,1175],[600,1190],[630,1190],[660,1190],[690,1190],[715,1190],[740,1190],[765,1190],[610,1205],[640,1205],[680,1205],[710,1205],[750,1205],[578,1218],[620,1218],[655,1218],[695,1218],[730,1218],[600,1230],[640,1230],[670,1230],[720,1230],[770,1230],[585,1245],[620,1245],[660,1245],[690,1245],[730,1245],[770,1245],[570,1258],[610,1258],[645,1258],[680,1258],[715,1258],[750,1258],[590,1272],[630,1272],[665,1272],[700,1272],[740,1272],[770,1272],[600,1285],[640,1285],[680,1285],[720,1285],[755,1285],[620,1298],[655,1298],[695,1298],[730,1298],[765,1298],[640,1312],[680,1312],[715,1312],[570,1350],[600,1350],[650,1350],[690,1350],[720,1350],[748,1350],[580,1365],[630,1365],[680,1365],[700,1365],[610,1375],[748,1375],[660,1375],[730,1375],[570,1385],[630,1385],[670,1385],[720,1385],[585,1403],[650,1403],[580,1443],[605,1443],[675,1443],[713,1443],[585,1478],[635,1478],[725,1478],[745,1478],[760,1478],[655,1495],[740,1495],[680,1505],[765,1505]]
];
const epochLabels=[['Early',231,929],['introductions',231,957],['Emergence',228,1042],['of',228,1070],['new lineages',231,1098],['Peak',231.5,1198],['infections',231,1226]];
const panelLetters=[['a',8,14],['b',743,14],['c',1454,14],['d',8,702]];
const legendTitles=[['Origin',835,113],['Origin',1570,116]];

// ---------- build ----------
const FONT='"Liberation Sans"';
const FS=23;
const chart=echarts.init(document.getElementById('c'),null,{renderer:'canvas',width:2118,height:1494});
const other=[],sa=[],lin=[],segs=[],stems=[],blues=[],bands=[];
const STEM_TOP=690;
sectionOffsets.forEach((off,i)=>{
  otherRows[i].forEach(r=>{for(let k=1;k<r.length;k++){other.push([r[k]+off,r[0]]);if(r[0]>STEM_TOP)stems.push([r[k]+off,STEM_TOP,r[k]+off,r[0]]);}});
  sa.push(...saTips[i].map(p=>[p[0]+off,p[1]]));
  lin.push(...lineageTips[i].map(p=>[p[0]+off,p[1]]));
  branches[i].forEach(pl=>{for(let k=0;k+3<pl.length;k+=2)segs.push([pl[k]+off,pl[k+1],pl[k+2]+off,pl[k+3]]);});
  blueStems[i].forEach(s=>blues.push([s[0]+off,s[1],s[0]+off,s[2]]));
  stemBands[i].forEach(b=>bands.push([b[0]+off,b[1]+off,b[2],b[3]]));
});
function lineItem(color,width){return (p,api)=>{const a=api.coord([api.value(0),api.value(1)]),b=api.coord([api.value(2),api.value(3)]);
  return {type:'line',shape:{x1:a[0],y1:a[1],x2:b[0],y2:b[1]},style:{stroke:color,lineWidth:width,fill:null}};};}
function rectItem(color){return (p,api)=>{const a=api.coord([api.value(0),api.value(2)]),b=api.coord([api.value(1),api.value(3)]);
  return {type:'rect',shape:{x:a[0],y:Math.min(a[1],b[1]),width:b[0]-a[0],height:Math.abs(b[1]-a[1])},style:{fill:color}};};}
// value first, then x: ECharts stacks the first numeric column of a series
const rows=(xs,vs)=>xs.map((x,i)=>[vs[i],x]);
const labelOf=(names,pos)=>v=>{const i=pos.indexOf(v);return i<0?'':names[i];};
const tick={show:true,length:9,lineStyle:{color:'#666',width:1.5}};
const noLine={show:false,onZero:false};
function xAx(grid,min,max,names,pos,name,gap){return {type:'value',gridIndex:grid,min,max,name,nameLocation:'middle',nameGap:gap,nameTextStyle:{fontSize:FS,color:'#111'},splitLine:{show:false},axisLine:noLine,
  axisTick:Object.assign({},tick,{customValues:pos}),axisLabel:{customValues:pos,formatter:labelOf(names,pos),fontSize:FS,color:'#111',margin:15,showMinLabel:true,showMaxLabel:true,hideOverlap:false}};}
function yAx(grid,min,max,pos,name,gap,margin){return {type:'value',gridIndex:grid,min,max,name,nameLocation:'middle',nameGap:gap,nameTextStyle:{fontSize:FS,color:'#111'},splitLine:{show:false},axisLine:noLine,
  axisTick:Object.assign({},tick,{customValues:pos}),axisLabel:{customValues:pos,fontSize:FS,color:'#111',margin,padding:[2.5,0,0,0]}};}
const series=[];
// panel a
series.push({name:'Re band',type:'custom',xAxisIndex:0,yAxisIndex:0,silent:true,clip:false,z:2,data:[[0]],
  renderItem:(p,api)=>{const pts=reDays.map((d,i)=>api.coord([d,reUpper[i]])).concat(reDays.map((d,i)=>api.coord([d,reLower[i]])).reverse());
    return {type:'polygon',shape:{points:pts},style:{fill:'#f9cfca',stroke:'#d8291e',lineWidth:.9}};}});
series.push({name:'Baseline',type:'line',xAxisIndex:0,yAxisIndex:0,data:[[-4.6,0],[201.5,0]],showSymbol:false,silent:true,lineStyle:{color:'#111',width:1.4},z:2});
series.push({name:'Threshold',type:'line',xAxisIndex:0,yAxisIndex:0,data:[[-4.6,1],[201.5,1]],showSymbol:false,silent:true,lineStyle:{color:'#d7191c',width:2.2,type:[10,8]},z:3});
series.push({name:'Cases',type:'line',xAxisIndex:0,yAxisIndex:1,data:casesDaily,showSymbol:false,lineStyle:{color:'#000',width:5},itemStyle:{color:'#000'},z:4});
series.push({name:'Re',type:'line',xAxisIndex:0,yAxisIndex:0,data:reDays.map((d,i)=>[d,reMean[i]]),smooth:.3,showSymbol:false,lineStyle:{color:'#cc0000',width:5},itemStyle:{color:'#cc0000'},z:5});
series.push({name:'Levels',type:'custom',xAxisIndex:0,yAxisIndex:0,clip:false,z:3,data:lockdownLevels.map((l,i)=>[l[0],l[1],i]),
  renderItem:(p,api)=>{const i=api.value(2),l=lockdownLevels[i],a=api.coord([l[0],-.352]),b=api.coord([l[1],-.455]),t=api.coord([levelLabelDays[i],-.206]);
    return {type:'group',children:[{type:'rect',shape:{x:a[0],y:a[1],width:b[0]-a[0],height:b[1]-a[1]},style:{fill:l[3]}},
      {type:'text',x:t[0],y:t[1],style:{text:l[2],fill:l[4],font:'18.5px '+FONT,textAlign:'center',textVerticalAlign:'middle'}}]};}});
series.push({name:'Genomes',type:'custom',xAxisIndex:0,yAxisIndex:0,clip:true,z:3,data:genomeDays,itemStyle:{color:'#0000ff'},
  renderItem:(p,api)=>{const d=api.value(0),a=api.coord([d-.55,-.476]),b=api.coord([d+.55,-.648]);
    return {type:'rect',shape:{x:a[0],y:a[1],width:b[0]-a[0],height:b[1]-a[1]},style:{fill:'#0000ff',opacity:api.value(1)/5}};}});
// panel b
const bStyle=c=>({color:c,borderColor:'#5e5e5e',borderWidth:1.6});
[['South America',introSouthAmerica,'#5a7cc8'],['Oceania',introOceania,'#ffffff'],['North America',introNorthAmerica,'#000000'],['Europe',introEurope,'#b89f8a'],['Asia',introAsia,'#009473'],['Africa',introAfrica,'#ff1a2e']]
 .forEach(s=>series.push({name:s[0],type:'bar',stack:'intro',xAxisIndex:1,yAxisIndex:2,barWidth:10.5,encode:{x:1,y:0},data:rows(introWeeks,s[1]),itemStyle:bStyle(s[2])}));
// panel c
series.push({name:'South Africa',type:'bar',stack:'sample',xAxisIndex:2,yAxisIndex:3,barWidth:10,encode:{x:1,y:0},data:rows(sampleWeeks,sampleSouthAfrica),itemStyle:{color:'#bebebe'}});
series.push({name:'Outside',type:'bar',stack:'sample',xAxisIndex:2,yAxisIndex:3,barWidth:10,encode:{x:1,y:0},data:rows(sampleWeeks,sampleOutside),itemStyle:{color:'#000'}});
// panel d
series.push({name:'Epochs',type:'custom',xAxisIndex:3,yAxisIndex:4,clip:false,z:1,silent:true,data:epochBands,renderItem:rectItem('#fdd9b5')});
series.push({name:'StemBands',type:'custom',xAxisIndex:3,yAxisIndex:4,clip:false,z:2,silent:true,data:bands,renderItem:rectItem('#b3b3b3')});
series.push({name:'Stems',type:'custom',xAxisIndex:3,yAxisIndex:4,clip:false,z:2,silent:true,data:stems,renderItem:lineItem('#b3b3b3',2)});
series.push({name:'Branches',type:'custom',xAxisIndex:3,yAxisIndex:4,clip:false,z:2,silent:true,data:segs,renderItem:lineItem('#b8b8b8',2)});
series.push({name:'BlueStems',type:'custom',xAxisIndex:3,yAxisIndex:4,clip:false,z:3,silent:true,data:blues,renderItem:lineItem('#0000ff',2)});
const tipSym=(name,data,fill,border,z)=>({name,type:'scatter',xAxisIndex:3,yAxisIndex:4,data,symbol:'circle',symbolSize:[14,11],clip:false,z,silent:true,progressive:0,itemStyle:{color:fill,borderColor:border,borderWidth:1.8,opacity:1}});
series.push(tipSym('Other',other,'#a3a3a3','#6b6b6b',4));
series.push(tipSym('South Africa (tips)',sa,'#0000ff','#000',5));
series.push(tipSym('South African strains from the mentioned lineages',lin,'#ff0000','#000',6));
series.push({name:'LineageBars',type:'custom',xAxisIndex:3,yAxisIndex:4,clip:false,z:6,silent:true,data:lineageBars.map(l=>[l[0],l[1],l[3]]),
  renderItem:(p,api)=>{const i=p.dataIndex,a=api.coord([api.value(0),1589]),b=api.coord([api.value(1),1627]),t=api.coord([api.value(2),1629]);
    return {type:'group',children:[{type:'rect',shape:{x:a[0],y:a[1],width:b[0]-a[0],height:b[1]-a[1]},style:{fill:'#ff0000'}},
     {type:'text',x:t[0],y:t[1]+2,rotation:-Math.PI/2,style:{text:lineageBars[i][2],fill:'#ff0000',font:'23.5px '+FONT,textAlign:'left',textVerticalAlign:'middle'}}]};}});

const graphic=[];
panelLetters.forEach(l=>graphic.push({type:'text',z:100,x:l[1],y:l[2],style:{text:l[0],font:'bold 32px "Noto Sans"',fill:'#000',textAlign:'center',textVerticalAlign:'middle'}}));
legendTitles.forEach(l=>graphic.push({type:'text',z:100,x:l[1],y:l[2],style:{text:l[0],font:FS+'px '+FONT,fill:'#111',textAlign:'left',textVerticalAlign:'middle'}}));
epochLabels.forEach(l=>graphic.push({type:'text',z:100,x:l[1],y:l[2],style:{text:l[0],font:'22.5px '+FONT,fill:'#111',textAlign:'center',textVerticalAlign:'middle'}}));
graphic.push({type:'text',z:100,x:1016,y:720,style:{text:'Sampling locations',font:FS+'px '+FONT,fill:'#111',textAlign:'center',textVerticalAlign:'middle'}});

const frame={show:true,borderColor:'#7a7a7a',borderWidth:1.6,backgroundColor:'transparent',containLabel:false,outerBoundsMode:'none'};
const ttl=(text,left)=>({text,left,top:9,textAlign:'center',textStyle:{fontSize:FS,fontWeight:'normal',color:'#111',fontFamily:FONT}});
const txt=pad=>({fontSize:FS,color:'#111',padding:[0,0,0,pad]});
chart.setOption({
  animation:false,
  textStyle:{fontFamily:FONT},
  title:[ttl('Epidemic and genomic data in South Africa',317),ttl('Introduction into South Africa',1103),ttl('Sampling in South Africa',1821)],
  grid:[Object.assign({left:70,top:42.5,width:503,height:529},frame),Object.assign({left:816.4,top:42.5,width:584.4,height:529},frame),Object.assign({left:1539.7,top:42.5,width:573.3,height:529},frame),{left:390,top:700.8,width:1547.5,height:702.2,show:false,outerBoundsMode:'none'}],
  legend:[
   {data:[{name:'Cases',icon:'rect'},{name:'Re',icon:'rect'},{name:'Genomes',icon:'rect'}],orient:'vertical',left:149,top:121,itemWidth:23,itemHeight:5,itemGap:6,textStyle:txt(1.5),selectedMode:false},
   {data:['Africa','Asia','Europe','North America','Oceania','South America'],orient:'vertical',left:832,top:131.5,itemWidth:27,itemHeight:26,itemGap:.4,textStyle:txt(3),selectedMode:false,icon:'rect'},
   {data:['Outside','South Africa'],orient:'vertical',left:1569,top:136,itemWidth:22,itemHeight:23,itemGap:5.5,textStyle:txt(3),selectedMode:false,icon:'rect'},
   {data:[{name:'South Africa (tips)',icon:'circle'}],left:1158,top:702,itemWidth:24,itemHeight:24,textStyle:txt(2),selectedMode:false,formatter:()=>'South Africa'},
   {data:[{name:'Other',icon:'circle'}],left:1406,top:703,itemWidth:24,itemHeight:24,textStyle:txt(4),selectedMode:false},
   {data:[{name:'South African strains from the mentioned lineages',icon:'circle'}],left:1162,top:763,itemWidth:24,itemHeight:24,textStyle:txt(5),selectedMode:false}
  ],
  xAxis:[
   xAx(0,-4.6,201.5,aMonths,aMonthDays,'Month',51),
   xAx(1,-29.7,260.6,bMonths,bMonthDays,'Dates',51),
   xAx(2,-.7,313,cMonths,cMonthDays,'Month',55),
   {type:'value',gridIndex:3,min:0,max:4642,show:false,splitLine:{show:false},axisLine:noLine}
  ],
  yAxis:[
   Object.assign(yAx(0,-.648,4.747,[0,1,2,3,4],'{r|R}{e|e}',45,20),{nameTextStyle:{fontSize:FS,color:'#111',rich:{r:{fontSize:24,color:'#111',fontFamily:FONT},e:{fontSize:16,color:'#111',fontFamily:FONT,verticalAlign:'bottom',padding:[8,0,0,0]}}}}),
   Object.assign(yAx(0,-2267,16607,[0,5000,10000,15000],'Cases',106,18),{position:'right',nameRotate:-90}),
   yAx(1,-.66,13.64,[0,5,10],'Count',60,20),
   yAx(2,-12.3,254.2,[0,50,100,150,200,250],'Count',70,18),
   {type:'value',gridIndex:3,min:-45.6,max:1623,inverse:true,z:10,position:'left',splitLine:{show:false},
    axisLine:{show:true,onZero:false,lineStyle:{color:'#222',width:1.4}},
    axisTick:{show:true,length:9,customValues:dMonthPos,lineStyle:{color:'#222',width:1.4}},
    axisLabel:{customValues:dMonthPos,formatter:labelOf(dMonths,dMonthPos),fontSize:FS,color:'#111',margin:19,padding:[2.5,0,0,0]}}
  ],
  series,graphic
});
</script></body></html>
